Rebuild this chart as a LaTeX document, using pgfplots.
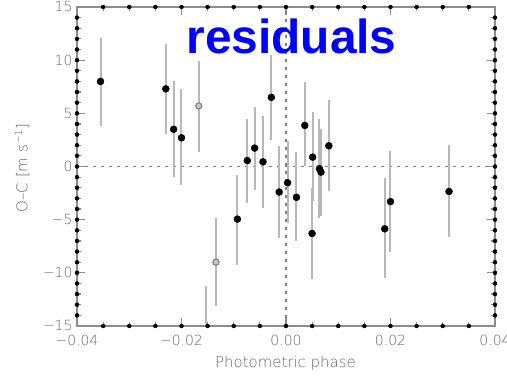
\documentclass[border=0pt]{standalone}
\usepackage{fontspec}
\setmainfont{DejaVu Sans ExtraLight}
\newfontfamily\titlefont{Liberation Sans}
\usepackage{pgfplots}
\usepackage{pgfplotstable}
\pgfplotsset{compat=1.18}
\definecolor{axgray}{gray}{0.55}
\definecolor{lblgray}{gray}{0.40}
\definecolor{errgray}{gray}{0.72}
\definecolor{zerogray}{gray}{0.50}
\definecolor{opengray}{gray}{0.50}
\definecolor{openfill}{gray}{0.78}

\pgfplotstableread{
x y ep em
-0.0355 8.0 4.1 4.2
-0.0230 7.3 4.2 4.2
-0.0215 3.5 4.5 4.45
-0.0200 2.7 4.6 4.4
-0.0093 -4.95 4.15 4.3
-0.0154 -16.0 4.8 4.8
-0.0074 0.56 3.95 3.95
-0.0060 1.73 3.9 3.9
-0.0044 0.44 4.3 4.3
-0.0028 6.5 4.0 4.0
-0.0013 -2.4 4.35 4.3
0.0003 -1.53 3.9 3.8
0.0020 -2.9 4.3 4.15
0.0036 3.86 4.05 3.86
0.0051 0.88 4.2 4.1
0.0050 -6.3 4.3 4.3
0.0064 -0.2 4.7 4.65
0.0067 -0.53 4.1 4.1
0.0082 1.95 4.35 4.3
0.0189 -5.86 4.76 4.64
0.0200 -3.3 4.8 4.7
0.0312 -2.35 4.35 4.25
}\filled

\pgfplotstableread{
x y ep em
-0.0167 5.7 4.2 4.3
-0.0134 -9.0 4.15 4.1
}\opened

\pgfplotsset{
  tickbar/.style={only marks, mark=none, forget plot,
    error bars/error mark=none,
    error bars/error bar style={draw=axgray, line width=1.2bp}},
}

\begin{document}
\begin{tikzpicture}
\useasboundingbox (-77bp,-50bp) rectangle (430bp,326bp);
\begin{axis}[
  scale only axis, width=418bp, height=319bp,
  at={(0,0)}, anchor=south west,
  xmin=-0.04, xmax=0.04, ymin=-15, ymax=15,
  axis line style={axgray, line width=1.3bp},
  major tick length=0bp, minor tick length=0bp,
  scaled x ticks=false, scaled y ticks=false,
  xtick={-0.04,-0.02,0,0.02,0.04},
  xticklabels={−0.04,−0.02,0.00,0.02,0.04},
  ytick={-15,-10,-5,0,5,10,15},
  yticklabels={−15,−10,−5,0,5,10,15},
  ticklabel style={font=\fontsize{14}{14}\selectfont, text=lblgray},
  xticklabel style={yshift=-6bp},
  yticklabel style={xshift=-1bp},
  clip=true,
]
% tick marks drawn as fixed-length bars on all four sides
\addplot[tickbar, error bars/y dir=plus, error bars/y fixed=0.75] coordinates {(-0.02,-15) (0,-15) (0.02,-15)};
\addplot[tickbar, error bars/y dir=minus, error bars/y fixed=0.75] coordinates {(-0.02,15) (0,15) (0.02,15)};
\addplot[tickbar, error bars/y dir=plus, error bars/y fixed=0.42] coordinates {(-0.035,-15) (-0.03,-15) (-0.025,-15) (-0.015,-15) (-0.01,-15) (-0.005,-15) (0.005,-15) (0.01,-15) (0.015,-15) (0.025,-15) (0.03,-15) (0.035,-15)};
\addplot[tickbar, error bars/y dir=minus, error bars/y fixed=0.42] coordinates {(-0.035,15) (-0.03,15) (-0.025,15) (-0.015,15) (-0.01,15) (-0.005,15) (0.005,15) (0.01,15) (0.015,15) (0.025,15) (0.03,15) (0.035,15)};
\addplot[tickbar, error bars/x dir=plus, error bars/x fixed=0.00153] coordinates {(-0.04,-10) (-0.04,-5) (-0.04,0) (-0.04,5) (-0.04,10)};
\addplot[tickbar, error bars/x dir=minus, error bars/x fixed=0.00153] coordinates {(0.04,-10) (0.04,-5) (0.04,0) (0.04,5) (0.04,10)};
\addplot[tickbar, error bars/x dir=plus, error bars/x fixed=0.00086] coordinates {(-0.04,-14) (-0.04,-13) (-0.04,-12) (-0.04,-11) (-0.04,-9) (-0.04,-8) (-0.04,-7) (-0.04,-6) (-0.04,-4) (-0.04,-3) (-0.04,-2) (-0.04,-1) (-0.04,1) (-0.04,2) (-0.04,3) (-0.04,4) (-0.04,6) (-0.04,7) (-0.04,8) (-0.04,9) (-0.04,11) (-0.04,12) (-0.04,13) (-0.04,14)};
\addplot[tickbar, error bars/x dir=minus, error bars/x fixed=0.00086] coordinates {(0.04,-14) (0.04,-13) (0.04,-12) (0.04,-11) (0.04,-9) (0.04,-8) (0.04,-7) (0.04,-6) (0.04,-4) (0.04,-3) (0.04,-2) (0.04,-1) (0.04,1) (0.04,2) (0.04,3) (0.04,4) (0.04,6) (0.04,7) (0.04,8) (0.04,9) (0.04,11) (0.04,12) (0.04,13) (0.04,14)};
% zero lines
\addplot[zerogray, line width=1.1bp, dash pattern=on 2.5bp off 5.5bp, forget plot] coordinates {(-0.04,0) (0.04,0)};
\addplot[zerogray, line width=1.1bp, dash pattern=on 2.5bp off 5.5bp, forget plot] coordinates {(0,-15) (0,15)};
% data error bars
\addplot[only marks, mark=none, forget plot,
  error bars/.cd, y dir=both, y explicit,
  error bar style={draw=errgray, line width=2bp}, error mark=none]
  table[x=x, y=y, y error plus=ep, y error minus=em] {\filled};
\addplot[only marks, mark=none, forget plot,
  error bars/.cd, y dir=both, y explicit,
  error bar style={draw=errgray, line width=2bp}, error mark=none]
  table[x=x, y=y, y error plus=ep, y error minus=em] {\opened};
% data points
\addplot[only marks, mark=*, mark size=3.5bp, mark options={black, fill=black}] table[x=x, y=y] {\filled};
\addplot[only marks, mark=*, mark size=3.1bp, mark options={draw=opengray, fill=openfill, line width=1.1bp}] table[x=x, y=y] {\opened};
\end{axis}
\node[anchor=base, text=blue, font=\titlefont\bfseries\fontsize{48}{48}\selectfont] at (214.5bp,272.7bp) {residuals};
\node[font=\fontsize{15}{15}\selectfont, text=lblgray] at (208.5bp,-37bp) {Photometric phase};
\node[rotate=90, font=\fontsize{15}{15}\selectfont, text=lblgray] at (-55bp,158bp) {O–C [m s\textsuperscript{−1}]};
\end{tikzpicture}
\end{document}
